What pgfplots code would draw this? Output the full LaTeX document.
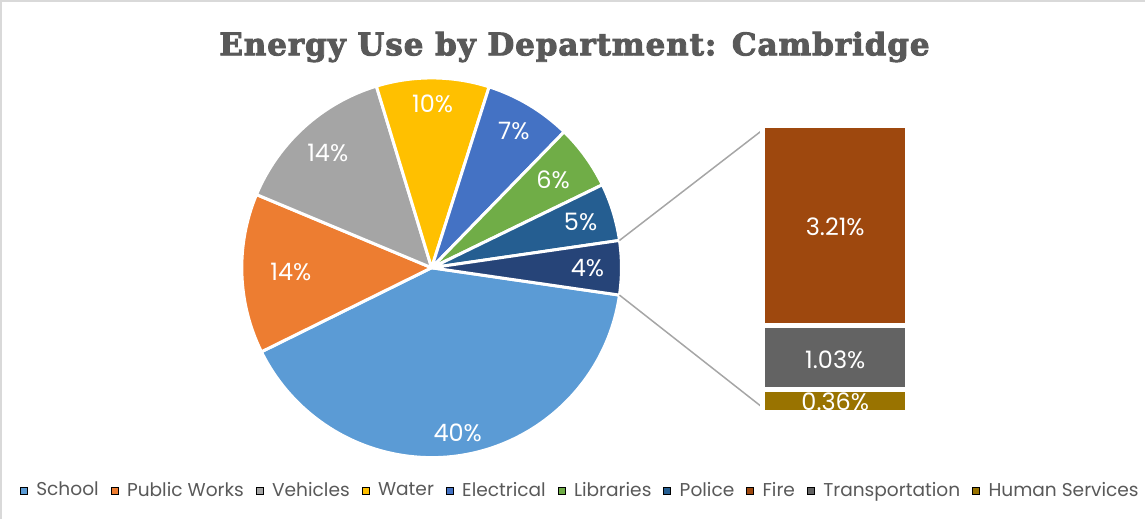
\documentclass[border=0pt]{standalone}
\usepackage{fontspec}
\setmainfont{Poppins}
\newfontfamily\titlefont{DejaVu Serif}[LetterSpace=3, BoldFeatures={FakeBold=3}]
\usepackage{pgfplots}
\usepackage{pgfplotstable}
\pgfplotsset{compat=1.18}

\definecolor{cSchool}{HTML}{5B9BD5}
\definecolor{cPW}{HTML}{ED7D31}
\definecolor{cVeh}{HTML}{A5A5A5}
\definecolor{cWater}{HTML}{FFC000}
\definecolor{cElec}{HTML}{4472C4}
\definecolor{cLib}{HTML}{70AD47}
\definecolor{cPol}{HTML}{255E91}
\definecolor{cOther}{HTML}{264478}
\definecolor{cFire}{HTML}{9E480E}
\definecolor{cTrans}{HTML}{636363}
\definecolor{cHS}{HTML}{997300}
\definecolor{cText}{HTML}{595959}
\definecolor{cLine}{HTML}{A6A6A6}
\definecolor{cFrame}{HTML}{D9D9D9}

% pie: value (%), label, label radius (px), colour
\pgfplotstableread{
name value label lr color
School 40.4 40 167 cSchool
PublicWorks 13.6 14 141 cPW
Vehicles 14.0 14 155 cVeh
Water 9.6 10 164 cWater
Electrical 7.4 7 160 cElec
Libraries 5.5 6 150 cLib
Police 4.9 5 156 cPol
Other 4.6 4 156 cOther
}\piedata

% bar of pie: Human Services, Transportation, Fire
\pgfplotstableread{
x value
0.5 0.36
}\hsdata
\pgfplotstableread{
x value
0.5 1.03
}\trdata
\pgfplotstableread{
x value
0.5 3.21
}\firedata

\def\cx{432}\def\cy{251}
\pgfplotstablegetelem{7}{value}\of\piedata
\pgfmathsetmacro\curang{-1.8*\pgfplotsretval}
\pgfplotsforeachungrouped \i in {0,...,7}{%
  \pgfplotstablegetelem{\i}{value}\of\piedata
  \pgfmathsetmacro\endang{\curang-3.6*\pgfplotsretval}%
  \pgfmathsetmacro\midang{(\curang+\endang)/2}%
  \expandafter\xdef\csname pA\i\endcsname{\curang}%
  \expandafter\xdef\csname pB\i\endcsname{\endang}%
  \pgfmathsetmacro\sx{\cx+190*cos(\curang)}%
  \pgfmathsetmacro\sy{\cy+190*sin(\curang)}%
  \expandafter\xdef\csname pSX\i\endcsname{\sx}%
  \expandafter\xdef\csname pSY\i\endcsname{\sy}%
  \pgfplotstablegetelem{\i}{lr}\of\piedata
  \let\lr\pgfplotsretval
  \pgfmathsetmacro\lx{\cx+\lr*cos(\midang)}%
  \pgfmathsetmacro\ly{\cy+\lr*sin(\midang)}%
  \expandafter\xdef\csname pX\i\endcsname{\lx}%
  \expandafter\xdef\csname pY\i\endcsname{\ly}%
  \pgfplotstablegetelem{\i}{label}\of\piedata
  \expandafter\xdef\csname pL\i\endcsname{\pgfplotsretval}%
  \pgfplotstablegetelem{\i}{color}\of\piedata
  \expandafter\xdef\csname pC\i\endcsname{\pgfplotsretval}%
  \global\let\curang\endang
}
% connector end points on the pie (edges of the "Other" slice)
\pgfmathsetmacro\ctx{\cx+190*cos(\csname pA7\endcsname)}
\pgfmathsetmacro\cty{\cy+190*sin(\csname pA7\endcsname)}
\pgfmathsetmacro\cbx{\cx+190*cos(\csname pB7\endcsname)}
\pgfmathsetmacro\cby{\cy+190*sin(\csname pB7\endcsname)}

\pgfplotsset{sqlegend/.style={legend image code/.code={\fill[##1] (0pt,-1.75pt) rectangle (3.5pt,1.75pt);}}}

\begin{document}
\begin{tikzpicture}
\begin{axis}[
  x=0.5pt, y=0.5pt, xmin=0, xmax=1146, ymin=0, ymax=519,
  hide axis, clip=false,
  legend columns=-1,
  legend style={at={(0.506,0.054)}, anchor=center, draw=none, fill=none,
    font=\fontsize{9.3}{11}\selectfont, text=cText,
    nodes={inner xsep=0pt},
    /tikz/every odd column/.append style={column sep=4.25pt},
    /tikz/every even column/.append style={column sep=6pt}},
]
\path (axis cs:0,0) rectangle (axis cs:1146,519);
\draw[cFrame, line width=1pt] (axis cs:1,0) -- (axis cs:1,518) -- (axis cs:1146,518);

\node[font=\titlefont\bfseries\fontsize{15.5}{18}\selectfont, text=cText] at (axis cs:575,472) {Energy Use by Department: Cambridge};

\pgfplotsinvokeforeach{0,...,7}{
  \fill[fill=\csname pC#1\endcsname, draw=white, line width=1.5pt, line join=round]
    (axis cs:\cx,\cy) -- (axis cs:\csname pSX#1\endcsname,\csname pSY#1\endcsname)
    arc[start angle=\csname pA#1\endcsname, end angle=\csname pB#1\endcsname, radius=95pt] -- cycle;
}
\pgfplotsinvokeforeach{0,...,7}{
  \node[text=white, font=\fontsize{12}{14}\selectfont] at (axis cs:\csname pX#1\endcsname,\csname pY#1\endcsname) {\csname pL#1\endcsname\%};
}

\draw[cLine, line width=0.75pt] (axis cs:\ctx,\cty) -- (axis cs:766,391);
\draw[cLine, line width=0.75pt] (axis cs:\cbx,\cby) -- (axis cs:766,109);
\coordinate (barSW) at (axis cs:763.5,106.5);
\coordinate (lblFire) at (axis cs:836,292);
\coordinate (lblTr) at (axis cs:836,159);
\coordinate (lblHS) at (axis cs:836,117);

\addlegendimage{sqlegend, fill=cSchool}\addlegendentry{School}
\addlegendimage{sqlegend, fill=cPW}\addlegendentry{Public Works}
\addlegendimage{sqlegend, fill=cVeh}\addlegendentry{Vehicles}
\addlegendimage{sqlegend, fill=cWater}\addlegendentry{Water}
\addlegendimage{sqlegend, fill=cElec}\addlegendentry{Electrical}
\addlegendimage{sqlegend, fill=cLib}\addlegendentry{Libraries}
\addlegendimage{sqlegend, fill=cPol}\addlegendentry{Police}
\addlegendimage{sqlegend, fill=cFire}\addlegendentry{Fire}
\addlegendimage{sqlegend, fill=cTrans}\addlegendentry{Transportation}
\addlegendimage{sqlegend, fill=cHS}\addlegendentry{Human Services}
\end{axis}

\begin{axis}[
  at={(barSW)}, anchor=south west, scale only axis,
  width=72.5pt, height=143.5pt,
  xmin=0, xmax=1, ymin=0, ymax=4.6,
  hide axis, clip=false,
  ybar stacked, bar width=72.5pt,
]
\addplot[fill=cHS, draw=white, line width=2.5pt] table[x=x, y=value] {\hsdata};
\addplot[fill=cTrans, draw=white, line width=2.5pt] table[x=x, y=value] {\trdata};
\addplot[fill=cFire, draw=white, line width=2.5pt] table[x=x, y=value] {\firedata};
\end{axis}
\node[text=white, font=\fontsize{12}{14}\selectfont] at (lblFire) {3.21\%};
\node[text=white, font=\fontsize{12}{14}\selectfont] at (lblTr) {1.03\%};
\node[text=white, font=\fontsize{12}{14}\selectfont] at (lblHS) {0.36\%};
\end{tikzpicture}
\end{document}
